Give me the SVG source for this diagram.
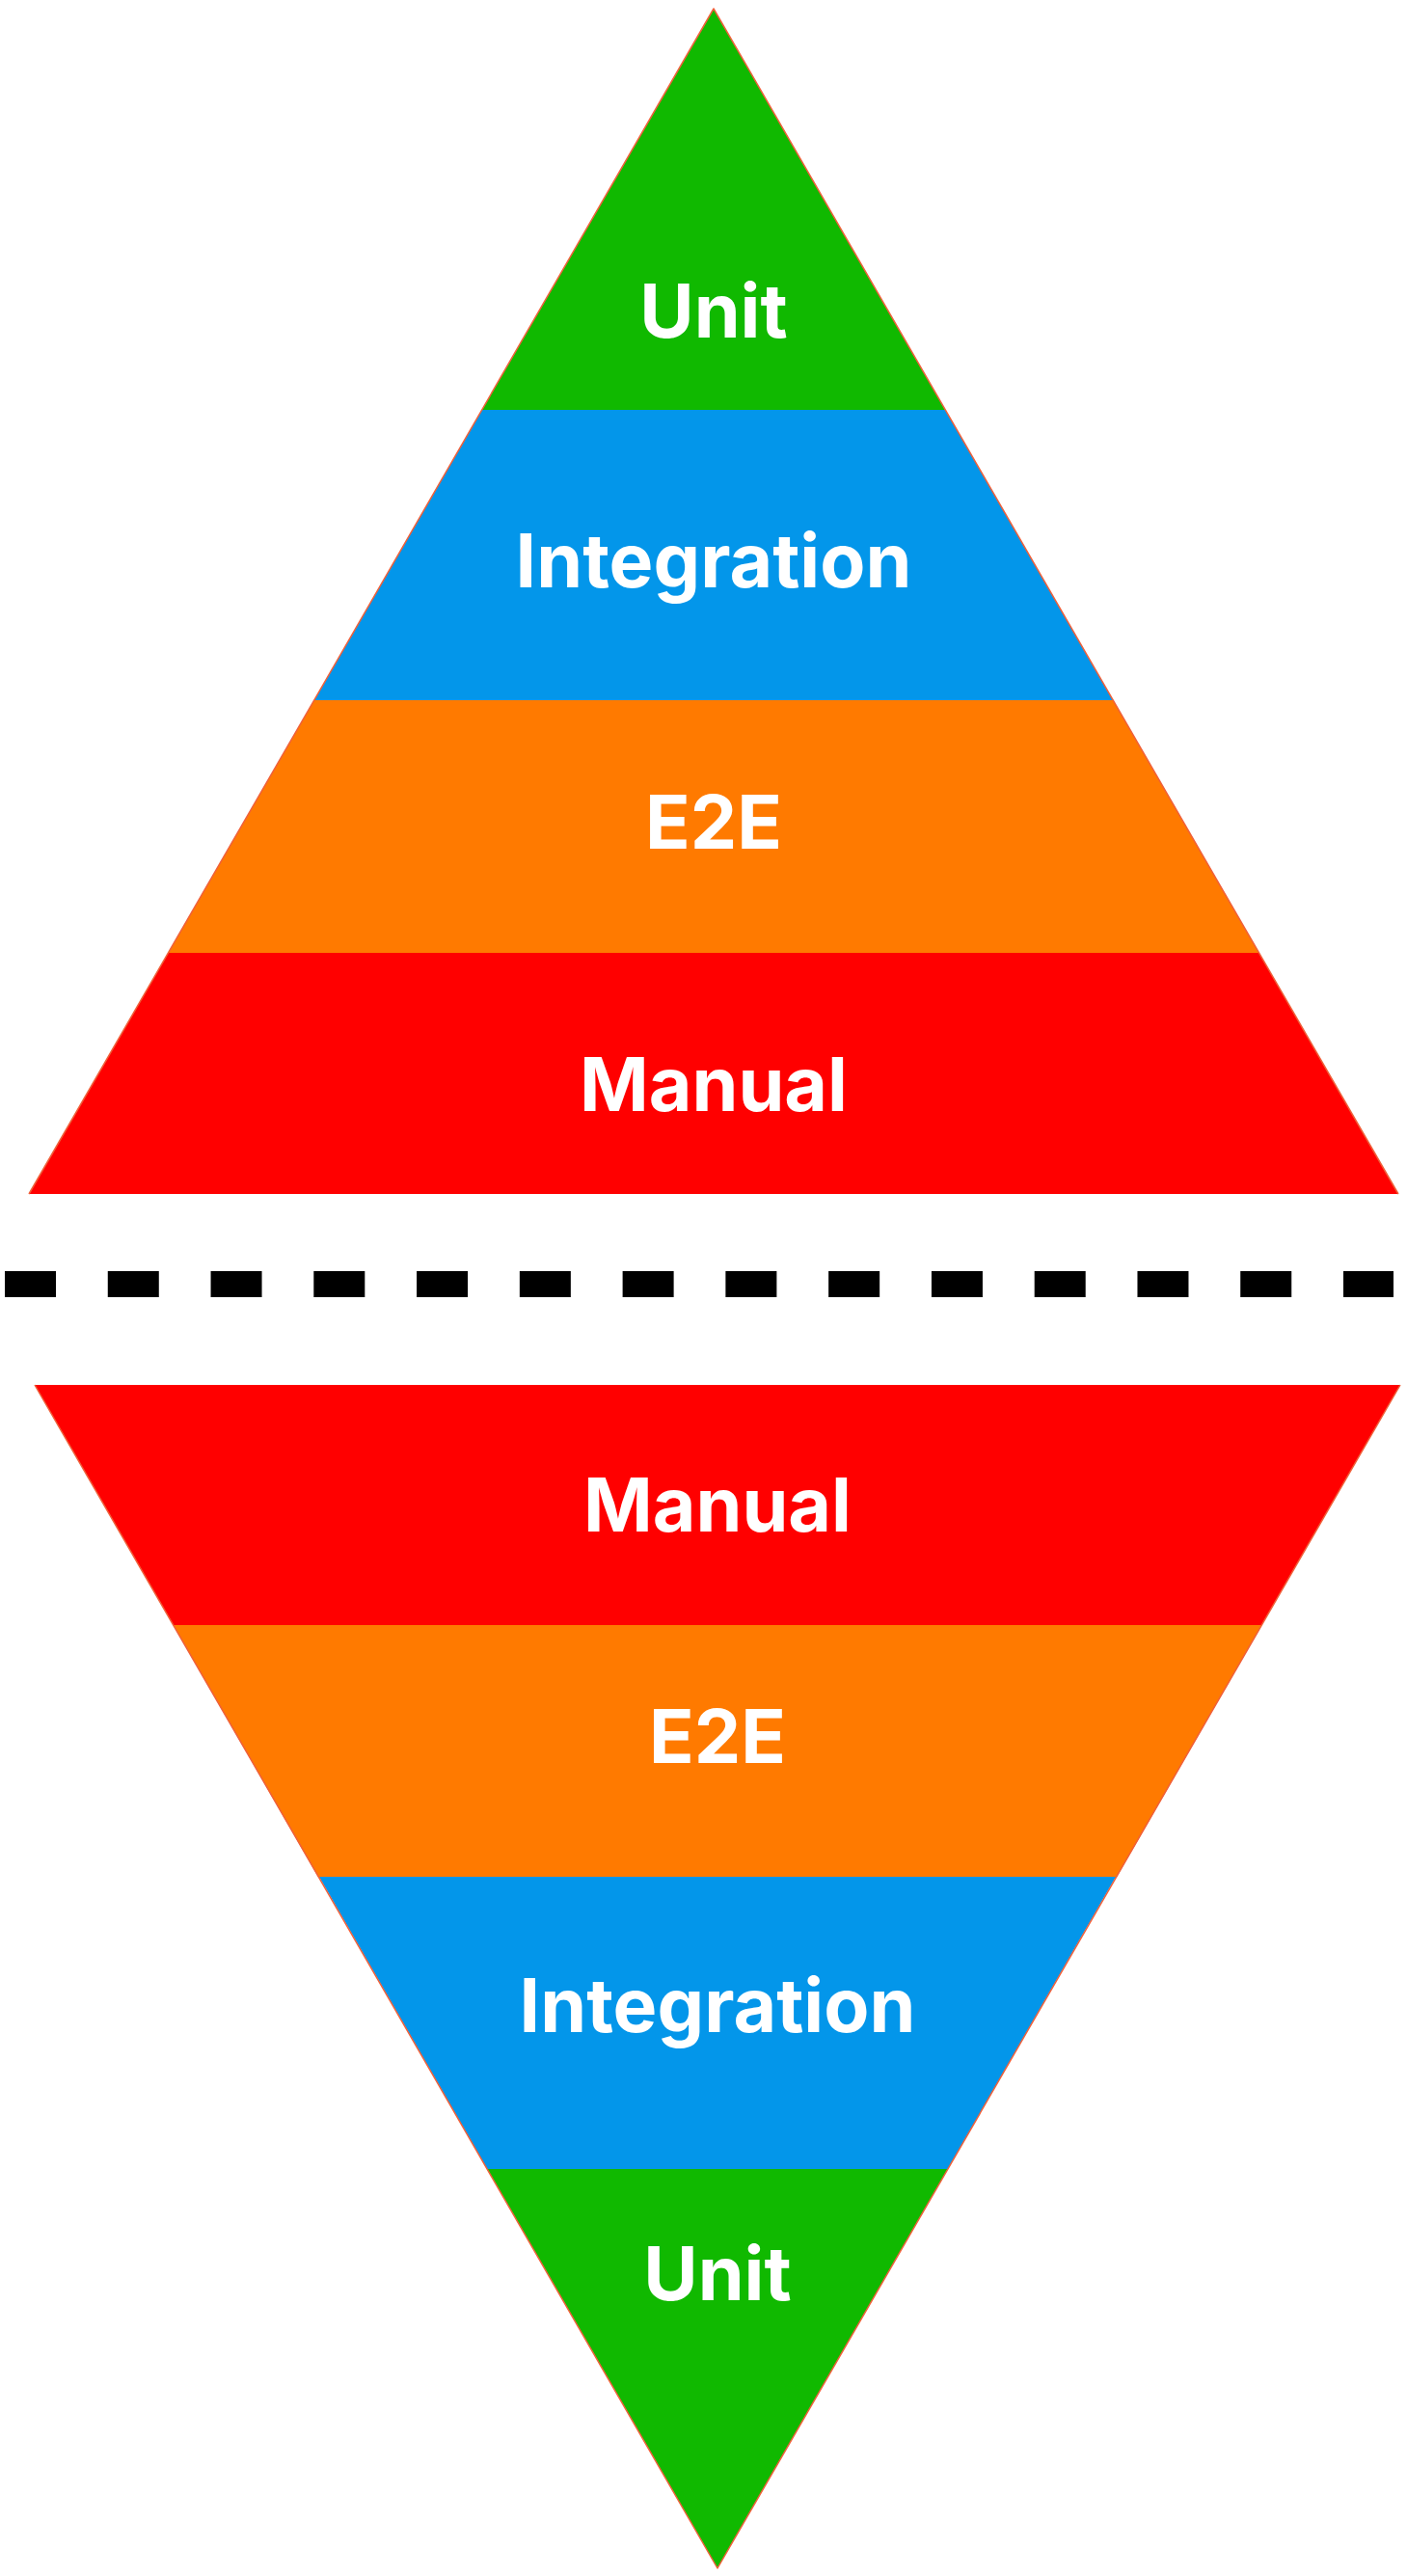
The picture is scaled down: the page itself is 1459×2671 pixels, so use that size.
<svg xmlns="http://www.w3.org/2000/svg" width="1459" height="2671" viewBox="0 0 1459 2671">
  <style>
    .lbl { font-family: Inter, "Noto Sans", "Liberation Sans", sans-serif; font-weight: 700; font-size: 77px; fill: #ffffff; text-anchor: middle; }
    .g { fill: #10b900; }
    .b { fill: #0396ea; }
    .o { fill: #ff7a00; }
    .r { fill: #ff0000; }
    .edge { fill: none; stroke: #f0603a; stroke-width: 1.5; stroke-linejoin: round; }
  </style>
  <rect width="1459" height="2671" fill="#ffffff"/>
  <g id="top-pyramid">
    <g id="top-unit">
      <polygon class="g" points="740,9 499.2,426 980.8,426"/>
      <text class="lbl" x="740" y="350">Unit</text>
    </g>
    <g id="top-integration">
      <polygon class="b" points="499.7,425 980.3,425 1154.8,727 325.2,727"/>
      <text class="lbl" x="740" y="609">Integration</text>
    </g>
    <g id="top-e2e">
      <polygon class="o" points="325.8,726 1154.2,726 1306.2,989 173.8,989"/>
      <text class="lbl" x="740" y="880">E2E</text>
    </g>
    <g id="top-manual">
      <polygon class="r" points="174.4,988 1305.6,988 1450,1238 30,1238"/>
      <text class="lbl" x="740" y="1152">Manual</text>
    </g>
    <polyline class="edge" points="30,1238 740,9 1450,1238"/>
  </g>
  <g id="separator">
    <line x1="5" y1="1331.5" x2="1445" y2="1331.5" stroke="#000000" stroke-width="27" stroke-dasharray="53 53.77"/>
  </g>
  <g id="bottom-pyramid">
    <g id="bottom-manual">
      <polygon class="r" points="36,1436 1452,1436 1307.7,1686 180.3,1686"/>
      <text class="lbl" x="744" y="1588">Manual</text>
    </g>
    <g id="bottom-e2e">
      <polygon class="o" points="179.7,1685 1308.3,1685 1157.7,1947 330.3,1947"/>
      <text class="lbl" x="744" y="1828">E2E</text>
    </g>
    <g id="bottom-integration">
      <polygon class="b" points="330.9,1946 1157.1,1946 982.3,2250 505.7,2250"/>
      <text class="lbl" x="744" y="2107">Integration</text>
    </g>
    <g id="bottom-unit">
      <polygon class="g" points="505.1,2249 982.9,2249 744,2663"/>
      <text class="lbl" x="744" y="2385">Unit</text>
    </g>
    <polyline class="edge" points="36,1436 744,2663 1452,1436"/>
  </g>
</svg>
